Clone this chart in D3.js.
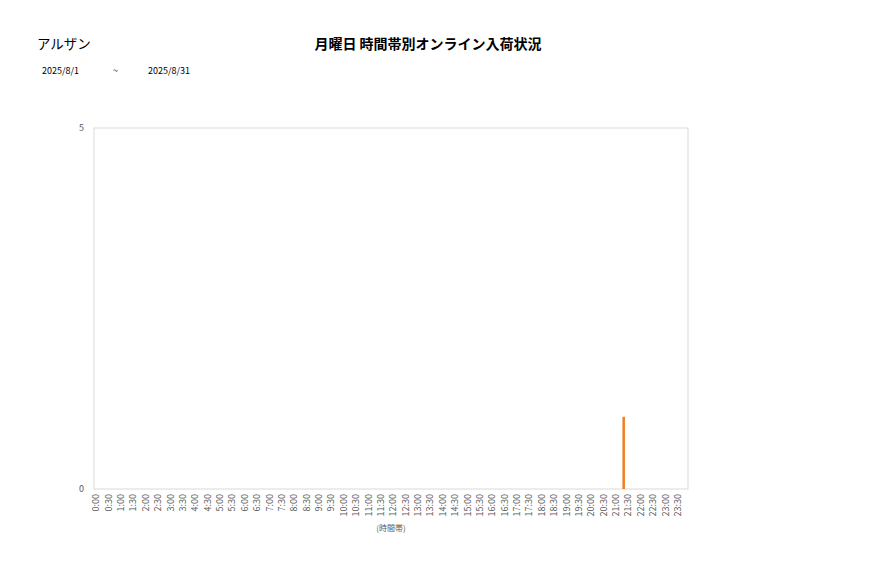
<!DOCTYPE html>
<html>
<head>
<meta charset="utf-8">
<script src="https://cdn.jsdelivr.net/npm/d3@7"></script>
<style>
  body { margin: 0; background: #fff; }
  text { font-family: "Noto Sans CJK JP", "Noto Sans", sans-serif; }
</style>
</head>
<body>
<svg id="chart" width="877" height="578"></svg>
<script>
//
// Data
//
const shopName = "アルザン";
const chartTitle = "月曜日 時間帯別オンライン入荷状況";
const dateFrom = "2025/8/1";
const dateTo = "2025/8/31";

// time slots every 30 minutes
const slots = ["0:00","0:30","1:00","1:30","2:00","2:30","3:00","3:30","4:00","4:30",
  "5:00","5:30","6:00","6:30","7:00","7:30","8:00","8:30","9:00","9:30",
  "10:00","10:30","11:00","11:30","12:00","12:30","13:00","13:30","14:00","14:30",
  "15:00","15:30","16:00","16:30","17:00","17:30","18:00","18:30","19:00","19:30",
  "20:00","20:30","21:00","21:30","22:00","22:30","23:00","23:30"];
const counts = [0,0,0,0,0,0,0,0,0,0,
  0,0,0,0,0,0,0,0,0,0,
  0,0,0,0,0,0,0,0,0,0,
  0,0,0,0,0,0,0,0,0,0,
  0,0,1,0,0,0,0,0];
const yTicks = [0, 5];

//
// Chart
//
const svg = d3.select("#chart");
const plot = { left: 94, top: 128, right: 688, bottom: 489 };

const x = d3.scaleBand().domain(slots).range([plot.left, plot.right]);
const y = d3.scaleLinear().domain([0, 5]).range([plot.bottom, plot.top]);

// headers
svg.append("text").attr("x", 37).attr("y", 49)
  .attr("font-size", 13.5).attr("fill", "#000").text(shopName);
svg.append("text").attr("x", 428).attr("y", 49)
  .attr("text-anchor", "middle").attr("font-size", 14).attr("font-weight", "bold")
  .attr("fill", "#000").text(chartTitle);
svg.append("text").attr("x", 42).attr("y", 74).attr("font-size", 9).text(dateFrom);
svg.append("text").attr("x", 113).attr("y", 74).attr("font-size", 9).text("~");
svg.append("text").attr("x", 148).attr("y", 74).attr("font-size", 9).text(dateTo);

// plot frame
svg.append("rect")
  .attr("x", plot.left).attr("y", plot.top)
  .attr("width", plot.right - plot.left).attr("height", plot.bottom - plot.top)
  .attr("fill", "#fff").attr("stroke", "#d9d9d9").attr("stroke-width", 1);

// y axis labels only
const yAxis = svg.append("g")
  .attr("transform", `translate(${plot.left},0)`)
  .call(d3.axisLeft(y).tickValues(yTicks).tickFormat(d3.format("d")).tickSize(0).tickPadding(10));
yAxis.select(".domain").remove();
yAxis.selectAll("text").attr("font-size", 9).attr("fill", "#595959")
  .attr("font-family", "\"Noto Sans CJK JP\", sans-serif");

// x axis labels, rotated
const xAxis = svg.append("g")
  .attr("transform", `translate(-4,${plot.bottom})`)
  .call(d3.axisBottom(x).tickSize(0).tickPadding(0));
xAxis.select(".domain").remove();
xAxis.selectAll("text")
  .attr("font-size", 9).attr("fill", "#595959")
  .attr("font-family", "\"Noto Sans CJK JP\", sans-serif")
  .attr("text-anchor", "end")
  .attr("transform", "rotate(-90)")
  .attr("x", -5).attr("y", 0).attr("dy", "0.35em");

svg.append("text").attr("x", 391).attr("y", 531)
  .attr("text-anchor", "middle").attr("font-size", 8).attr("fill", "#595959")
  .text("(時間帯)");

// bars (narrow, offset right of slot centre as in the source)
svg.append("g").selectAll("rect")
  .data(slots.map((s, i) => ({ slot: s, value: counts[i] })).filter((d) => d.value > 0))
  .enter()
  .append("rect")
  .attr("x", (d) => x(d.slot) + x.bandwidth() / 2 + 2.5)
  .attr("y", (d) => y(d.value))
  .attr("width", 2.5)
  .attr("height", (d) => y(0) - y(d.value))
  .attr("fill", "#f07d1e");
</script>
</body>
</html>
